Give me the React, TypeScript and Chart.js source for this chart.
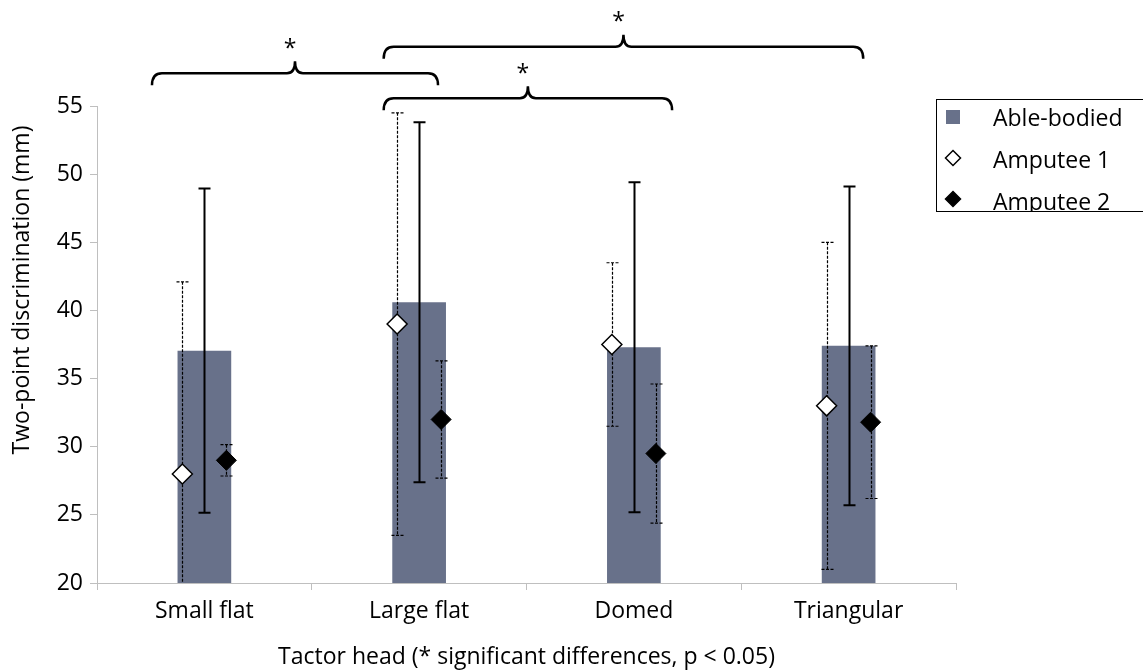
import React, { useEffect, useRef } from 'react';
import { Chart, registerables } from 'chart.js';

Chart.register(...registerables);

const categories = ['Small flat', 'Large flat', 'Domed', 'Triangular'];
const seriesLabels = ['Able-bodied', 'Amputee 1', 'Amputee 2'];
const ableBodiedMean = [37.05, 40.6, 37.3, 37.4];
const ableBodiedSD = [11.9, 13.2, 12.1, 11.7];
const amputee1Mean = [28.0, 39.0, 37.5, 33.0];
const amputee1SD = [14.1, 15.5, 6.0, 12.0];
const amputee2Mean = [29.0, 32.0, 29.5, 31.8];
const amputee2SD = [1.15, 4.3, 5.1, 5.6];
const yTicks = [20, 25, 30, 35, 40, 45, 50, 55];
const pointOffset = 0.1025;
const bracketFrom = [-0.244, 0.835, 0.835];
const bracketTo = [1.088, 3.068, 2.178];
const bracketLevel = [57.4, 59.35, 55.56];
const bracketLabel = ['*', '*', '*'];
const xTitle = 'Tactor head (* significant differences, p < 0.05)';
const yTitle = 'Two-point discrimination (mm)';

const FONT = '"Open Sans", "Noto Sans", sans-serif';
const FS = 23;
const BAR_COLOR = '#68718A';
const AXIS_COLOR = '#bfbfbf';

const errorBarPlugin = {
  id: 'errorBars',
  beforeDatasetDraw(chart: any, args: any) {
    const ds = chart.data.datasets[args.index];
    if (ds.errorStyle === 'dashed') drawErrors(chart, args);
  },
  afterDatasetDraw(chart: any, args: any) {
    const ds = chart.data.datasets[args.index];
    if (ds.errorStyle === 'solid') drawErrors(chart, args);
  },
};

function drawErrors(chart: any, args: any) {
  const ds = chart.data.datasets[args.index];
  const errs: number[] = ds.errors;
  const means: number[] = ds.means;
  const ctx = chart.ctx;
  const ya = chart.scales.y;
  const area = chart.chartArea;
  ctx.save();
  ctx.beginPath();
  ctx.rect(area.left, area.top - 6, area.right - area.left, area.bottom - area.top + 6);
  ctx.clip();
  ctx.strokeStyle = '#000';
  if (ds.errorStyle === 'solid') {
    ctx.lineWidth = 2;
    ctx.setLineDash([]);
  } else {
    ctx.lineWidth = 1.2;
    ctx.setLineDash([3, 1.5]);
  }
  const capHalf = 6;
  args.meta.data.forEach((el: any, i: number) => {
    const x = Math.round(el.x) + 0.5;
    const yTop = ya.getPixelForValue(means[i] + errs[i]);
    const yBot = ya.getPixelForValue(means[i] - errs[i]);
    ctx.beginPath();
    ctx.moveTo(x, yTop);
    ctx.lineTo(x, yBot);
    ctx.moveTo(x - capHalf, yTop);
    ctx.lineTo(x + capHalf, yTop);
    ctx.moveTo(x - capHalf, yBot);
    ctx.lineTo(x + capHalf, yBot);
    ctx.stroke();
  });
  ctx.restore();
}

const bracketPlugin = {
  id: 'brackets',
  afterDraw(chart: any) {
    const ctx = chart.ctx;
    const xs = chart.scales.xl;
    const ys = chart.scales.y;
    ctx.save();
    ctx.strokeStyle = '#000';
    ctx.lineWidth = 2.5;
    ctx.lineCap = 'butt';
    bracketFrom.forEach((f, i) => {
      const x1 = xs.getPixelForValue(f);
      const x2 = xs.getPixelForValue(bracketTo[i]);
      const y = ys.getPixelForValue(bracketLevel[i]);
      const xc = (x1 + x2) / 2;
      const h = 12;
      const r = 10;
      const rc = 8;
      ctx.beginPath();
      ctx.moveTo(x1, y + h);
      ctx.quadraticCurveTo(x1, y, x1 + r, y);
      ctx.lineTo(xc - rc, y);
      ctx.quadraticCurveTo(xc, y, xc, y - h);
      ctx.quadraticCurveTo(xc, y, xc + rc, y);
      ctx.lineTo(x2 - r, y);
      ctx.quadraticCurveTo(x2, y, x2, y + h);
      ctx.stroke();
      ctx.fillStyle = '#000';
      ctx.font = `${FS}px ${FONT}`;
      ctx.textAlign = 'center';
      ctx.textBaseline = 'middle';
      ctx.fillText(bracketLabel[i], xc - 5, y - h - 12);
    });
    ctx.restore();
  },
};

function diamond(ctx: any, x: number, y: number, r: number) {
  ctx.beginPath();
  ctx.moveTo(x, y - r);
  ctx.lineTo(x + r, y);
  ctx.lineTo(x, y + r);
  ctx.lineTo(x - r, y);
  ctx.closePath();
}

const legendPlugin = {
  id: 'customLegend',
  afterDraw(chart: any) {
    const ctx = chart.ctx;
    const bx = 936.5, by = 99.5, bw = 230, bh = 112;
    ctx.save();
    ctx.strokeStyle = '#000';
    ctx.lineWidth = 1;
    ctx.strokeRect(bx, by, bw, bh);
    ctx.beginPath();
    ctx.rect(bx, by, bw, bh);
    ctx.clip();
    const rows = [117, 158, 199];
    chart.data.datasets.forEach((ds: any, i: number) => {
      const cy = rows[i];
      const mx = 953;
      if (ds.type === 'bar') {
        ctx.fillStyle = ds.backgroundColor;
        ctx.fillRect(mx - 7, cy - 7, 14, 14);
      } else {
        diamond(ctx, mx, cy, 7.5);
        ctx.fillStyle = ds.backgroundColor;
        ctx.fill();
        ctx.lineWidth = 1.5;
        ctx.strokeStyle = '#000';
        ctx.stroke();
      }
      ctx.fillStyle = '#000';
      ctx.font = `${FS}px ${FONT}`;
      ctx.textAlign = 'left';
      ctx.textBaseline = 'middle';
      ctx.fillText(ds.label, 993, cy + 2 + i);
    });
    ctx.restore();
  },
};

const titlesPlugin = {
  id: 'axisTitles',
  afterDraw(chart: any) {
    const ctx = chart.ctx;
    const area = chart.chartArea;
    ctx.save();
    ctx.fillStyle = '#000';
    ctx.font = `${FS}px ${FONT}`;
    ctx.textAlign = 'center';
    ctx.textBaseline = 'middle';
    ctx.fillText(xTitle, (area.left + area.right) / 2, 657);
    ctx.translate(22, 290);
    ctx.rotate(-Math.PI / 2);
    ctx.fillText(yTitle, 0, 0);
    ctx.restore();
  },
};

export default function App() {
  const ref = useRef<HTMLCanvasElement | null>(null);
  useEffect(() => {
    if (!ref.current) return;
    const chart = new Chart(ref.current, {
      type: 'bar',
      data: {
        labels: categories,
        datasets: [
          {
            type: 'bar',
            label: seriesLabels[0],
            data: ableBodiedMean,
            means: ableBodiedMean,
            errors: ableBodiedSD,
            errorStyle: 'solid',
            backgroundColor: BAR_COLOR,
            barPercentage: 0.25,
            categoryPercentage: 1,
            grouped: false,
            xAxisID: 'x',
            yAxisID: 'y',
            order: 3,
          } as any,
          {
            type: 'scatter',
            label: seriesLabels[1],
            data: amputee1Mean.map((v, i) => ({ x: i - pointOffset, y: v })),
            means: amputee1Mean,
            errors: amputee1SD,
            errorStyle: 'dashed',
            pointStyle: 'rectRot',
            pointRadius: 10,
            backgroundColor: '#ffffff',
            borderColor: '#000000',
            borderWidth: 1.5,
            xAxisID: 'xl',
            yAxisID: 'y',
            order: 2,
          } as any,
          {
            type: 'scatter',
            label: seriesLabels[2],
            data: amputee2Mean.map((v, i) => ({ x: i + pointOffset, y: v })),
            means: amputee2Mean,
            errors: amputee2SD,
            errorStyle: 'dashed',
            pointStyle: 'rectRot',
            pointRadius: 10,
            backgroundColor: '#000000',
            borderColor: '#000000',
            borderWidth: 1,
            xAxisID: 'xl',
            yAxisID: 'y',
            order: 1,
          } as any,
        ],
      },
      options: {
        responsive: false,
        animation: false,
        layout: { padding: { left: 0, top: 106, right: 187, bottom: 0 } },
        plugins: {
          legend: { display: false },
          tooltip: { enabled: false },
          title: { display: false },
        },
        scales: {
          x: {
            type: 'category',
            offset: true,
            grid: { offset: true, drawOnChartArea: false, tickLength: 7, color: AXIS_COLOR, lineWidth: 1 },
            border: { color: AXIS_COLOR, width: 1 },
            ticks: { color: '#000', font: { family: FONT, size: FS }, padding: 8, maxRotation: 0 },
            afterFit: (s: any) => { s.height = 87; },
          },
          xl: {
            type: 'linear',
            display: false,
            min: -0.5,
            max: 3.5,
            offset: false,
          },
          y: {
            type: 'linear',
            min: 20,
            max: 55,
            grid: { drawOnChartArea: false, tickLength: 7, color: AXIS_COLOR, lineWidth: 1 },
            border: { color: AXIS_COLOR, width: 1 },
            ticks: { color: '#000', font: { family: FONT, size: FS }, padding: 7 },
            afterBuildTicks: (s: any) => { s.ticks = yTicks.map((v) => ({ value: v })); },
            afterFit: (s: any) => { s.width = 97; },
          },
        },
      } as any,
      plugins: [errorBarPlugin, bracketPlugin, legendPlugin, titlesPlugin],
    });
    return () => chart.destroy();
  }, []);
  return (
    <div style={{ position: 'fixed', left: 0, top: 0, width: 1143, height: 670, background: '#fff' }}>
      <canvas ref={ref} width={1143} height={670} style={{ display: 'block' }} />
    </div>
  );
}
